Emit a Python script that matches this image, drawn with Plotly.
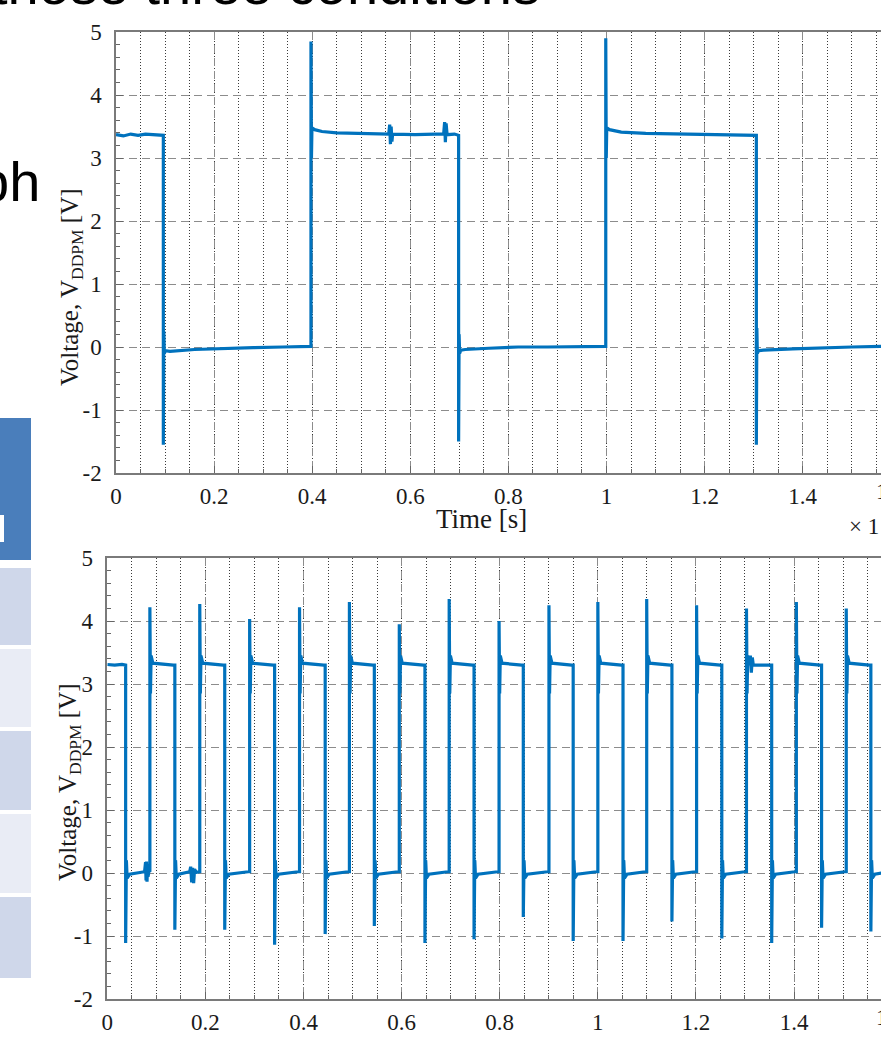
import plotly.graph_objects as go

W, H = 881, 1038
BLUE = "#0072BD"

# ---------------- data ----------------
# Top panel: voltage trace (time in s, voltage in V)
T_TOP = [0.000, 0.015, 0.030, 0.045, 0.060, 0.075, 0.090, 0.0965, 0.0965, 0.0975,
         0.0985, 0.1010, 0.1100, 0.1600, 0.2200, 0.2800, 0.3400, 0.3960, 0.3975, 0.3975,
         0.3985, 0.3995, 0.4050, 0.4200, 0.4500, 0.5000, 0.5560, 0.5580, 0.5595, 0.5610,
         0.5625, 0.5640, 0.6100, 0.6500, 0.6680, 0.6700, 0.6715, 0.6730, 0.6750, 0.6900,
         0.6985, 0.6985, 0.6995, 0.7005, 0.7030, 0.7120, 0.7600, 0.8200, 0.8800, 0.9400,
         0.9960, 0.9985, 0.9985, 0.9995, 1.0005, 1.0060, 1.0300, 1.0800, 1.1400, 1.2000,
         1.2600, 1.3020, 1.3055, 1.3055, 1.3065, 1.3075, 1.3100, 1.3200, 1.3800, 1.4400,
         1.5000, 1.5620]
V_TOP = [3.37, 3.35, 3.38, 3.36, 3.38, 3.37, 3.36, 3.36, -1.55, 0.25,
         -0.10, -0.06, -0.07, -0.04, -0.02, -0.01, 0.00, 0.01, 0.01, 4.85,
         3.00, 3.48, 3.45, 3.42, 3.40, 3.39, 3.38, 3.53, 3.22, 3.50,
         3.26, 3.38, 3.37, 3.38, 3.38, 3.57, 3.25, 3.55, 3.37, 3.38,
         3.36, -1.50, 0.20, -0.10, -0.05, -0.04, -0.02, 0.00, 0.00, 0.01,
         0.01, 0.01, 4.90, 3.00, 3.48, 3.45, 3.41, 3.39, 3.38, 3.37,
         3.37, 3.36, 3.36, -1.55, 0.30, -0.10, -0.06, -0.05, -0.03, -0.01,
         0.00, 0.01]

# Bottom panel: pulse train edges and spike levels
FALL_T = [0.0374, 0.1377, 0.2394, 0.3411, 0.4442, 0.5444, 0.6476, 0.7477,
          0.8481, 0.9498, 1.0514, 1.1511, 1.2528, 1.3545, 1.4562, 1.5567]
RISE_T = [0.0868, 0.1885, 0.2902, 0.3919, 0.4936, 0.5953, 0.6970, 0.7987,
          0.9004, 1.0001, 1.0997, 1.2014, 1.3031, 1.4048, 1.5065]
UNDER_V = [-1.11, -0.90, -0.90, -1.14, -0.97, -0.84, -1.11, -1.05,
           -0.70, -1.08, -1.08, -0.77, -1.04, -1.11, -0.87, -0.93]
OVER_V = [4.22, 4.27, 4.03, 4.22, 4.30, 3.95, 4.35, 4.00,
          4.25, 4.30, 4.35, 4.25, 4.20, 4.30, 4.20]
HIGH_V = 3.30
LOW_V = 0.00
# small ringing bursts seen on the bottom trace
BURST_T = [0.076, 0.078, 0.079, 0.080, 0.081, 0.082, 0.083, 0.085,
           0.168, 0.170, 0.172, 0.174, 0.176, 0.178, 0.181,
           1.309, 1.311, 1.313, 1.315, 1.317]
BURST_V = [0.02, 0.17, -0.12, 0.18, -0.14, 0.14, -0.06, 0.03,
           0.02, 0.10, -0.15, 0.08, -0.16, 0.06, 0.01,
           3.30, 3.45, 3.18, 3.42, 3.30]

Y_TICKS = [-2, -1, 0, 1, 2, 3, 4, 5]
X_TICKS = [0, 0.2, 0.4, 0.6, 0.8, 1.0, 1.2, 1.4]
X_TICKTEXT = ["0", "0.2", "0.4", "0.6", "0.8", "1", "1.2", "1.4"]

# ---------------- build bottom polyline from the read values ----------------
pts = [(0.0, 3.31), (0.015, 3.30), (0.030, 3.31)]
for i, tf in enumerate(FALL_T):
    pts += [(tf, HIGH_V), (tf, UNDER_V[i]), (tf + 0.0015, 0.20),
            (tf + 0.003, -0.08), (tf + 0.008, LOW_V - 0.02)]
    if i < len(RISE_T):
        tr = RISE_T[i]
        pts += [(tr - 0.003, LOW_V + 0.02), (tr, LOW_V + 0.02), (tr, OVER_V[i]),
                (tr + 0.0012, 2.85), (tr + 0.0025, 3.45), (tr + 0.006, 3.33),
                (FALL_T[i + 1] - 0.003, HIGH_V)]
    else:
        pts += [(1.58, LOW_V)]
pts += list(zip(BURST_T, BURST_V))
pts.sort(key=lambda p: p[0])
T_BOT = [p[0] for p in pts]
V_BOT = [p[1] for p in pts]

# ---------------- figure ----------------
def px_x(x):
    return x / W


def px_y(y):
    return 1 - y / H


fig = go.Figure()
fig.add_trace(go.Scatter(x=T_TOP, y=V_TOP, mode="lines", xaxis="x", yaxis="y",
                         line=dict(color=BLUE, width=3.2), hoverinfo="skip"))
fig.add_trace(go.Scatter(x=T_BOT, y=V_BOT, mode="lines", xaxis="x2", yaxis="y2",
                         line=dict(color=BLUE, width=3.2), hoverinfo="skip"))

SERIF = "Liberation Serif, Times New Roman, serif"
tickfont = dict(family=SERIF, size=23, color="#1a1a1a")
AX_LINE = "#7a7a7a"


def xaxis(domain_left_px, anchor):
    rng = (W - domain_left_px) / 490.5
    return dict(
        domain=[px_x(domain_left_px), 1], range=[0, rng], anchor=anchor, showline=True,
        linecolor=AX_LINE, linewidth=1.5, mirror=True, zeroline=False,
        tickvals=X_TICKS, ticktext=X_TICKTEXT, ticks="inside", ticklen=7,
        tickcolor="#666", tickfont=tickfont, ticklabelstandoff=2,
        showgrid=True, gridcolor="#8c8c8c", griddash="8px,5px", gridwidth=1,
        minor=dict(tick0=0, dtick=0.05, ticks="inside", ticklen=4, tickcolor="#666",
                   showgrid=True, gridcolor="#3a3a3a", griddash="1px,2px", gridwidth=1),
        fixedrange=True,
    )


def yaxis(top_px, bottom_px, anchor):
    return dict(
        domain=[px_y(bottom_px), px_y(top_px)], range=[-2, 5], anchor=anchor,
        showline=True, linecolor=AX_LINE, linewidth=1.5, mirror=False, zeroline=False,
        tickvals=Y_TICKS, ticktext=[str(v) for v in Y_TICKS], ticks="inside", ticklen=7,
        tickcolor="#666", tickfont=tickfont, ticklabelstandoff=8,
        showgrid=True, gridcolor="#8c8c8c", griddash="8px,5px", gridwidth=1,
        minor=dict(tick0=0, dtick=0.2, ticks="inside", ticklen=4, tickcolor="#666",
                   showgrid=False),
        fixedrange=True,
    )


annotations = [
    dict(text="Voltage, V<sub>DDPM</sub> [V]", x=px_x(72), y=px_y(287), textangle=-90,
         font=dict(family=SERIF, size=25, color="#1a1a1a")),
    dict(text="Voltage, V<sub>DDPM</sub> [V]", x=px_x(69), y=px_y(782), textangle=-90,
         font=dict(family=SERIF, size=25, color="#1a1a1a")),
    dict(text="Time [s]", x=px_x(481), y=px_y(519),
         font=dict(family=SERIF, size=27, color="#1a1a1a")),
    dict(text="Time [s]", x=px_x(473), y=px_y(1050),
         font=dict(family=SERIF, size=27, color="#1a1a1a")),
    dict(text="× 1", x=px_x(847), y=px_y(526), xanchor="left",
         font=dict(family=SERIF, size=23, color="#1a1a1a")),
    dict(text="1.6", x=px_x(874), y=px_y(491), xanchor="left", font=tickfont),
    dict(text="1.6", x=px_x(874), y=px_y(1017), xanchor="left", font=tickfont),
    dict(text="ph", x=px_x(42), y=px_y(181), xanchor="right",
         font=dict(family="Liberation Sans", size=56, color="#000")),
    dict(text="those three conditions", x=px_x(-10), y=px_y(-15), xanchor="left",
         font=dict(family="Liberation Sans", size=56, color="#000")),
]
for a in annotations:
    a.update(xref="paper", yref="paper", showarrow=False)
    a.setdefault("xanchor", "center")
    a.setdefault("yanchor", "middle")

# slide table at the left edge
TABLE = [
    (0, 31, 418, 560, "#4A7EBB"),
    (0, 4, 515, 542, "#FFFFFF"),
    (0, 31, 568, 645, "#CFD7EA"),
    (0, 31, 649, 727, "#E9ECF5"),
    (0, 31, 731, 810, "#CFD7EA"),
    (0, 31, 814, 893, "#E9ECF5"),
    (0, 31, 897, 978, "#CFD7EA"),
]
shape_objs = [dict(type="rect", xref="paper", yref="paper",
                   x0=px_x(x0), x1=px_x(x1), y0=px_y(y1), y1=px_y(y0),
                   fillcolor=c, line=dict(width=0), layer="below")
              for (x0, x1, y0, y1, c) in TABLE]

fig.update_layout(
    width=W, height=H, margin=dict(l=0, r=0, t=0, b=0, autoexpand=False),
    paper_bgcolor="white", plot_bgcolor="white", showlegend=False,
    xaxis=xaxis(116, "y"), yaxis=yaxis(32, 473, "x"),
    xaxis2=xaxis(107.3, "y2"), yaxis2=yaxis(558, 999, "x2"),
    annotations=annotations, shapes=shape_objs,
)

fig.write_html(
    "out.html",
    config={"displayModeBar": False},
    post_script="document.body.style.margin='0';document.body.style.padding='0';"
                "document.documentElement.style.overflow='hidden';",
)
